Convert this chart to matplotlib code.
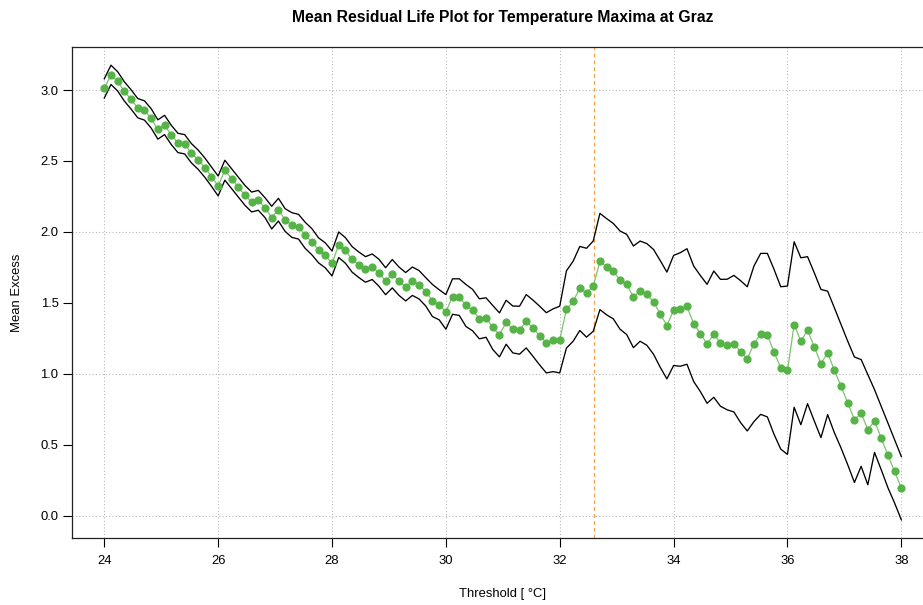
import numpy as np
import matplotlib
matplotlib.use("Agg")
import matplotlib.pyplot as plt

plt.rcParams['font.family'] = ['Liberation Sans', 'DejaVu Sans']

# thresholds: 120 equally spaced thresholds from 24 to 38 °C
threshold = np.linspace(24, 38, 120)

mean_excess = [
    3.011, 3.107, 3.061, 2.990, 2.934, 2.872, 2.856, 2.800, 2.722, 2.754,
    2.684, 2.627, 2.618, 2.555, 2.510, 2.454, 2.390, 2.324, 2.435, 2.376,
    2.317, 2.258, 2.211, 2.223, 2.171, 2.101, 2.157, 2.084, 2.049, 2.037,
    1.976, 1.931, 1.870, 1.835, 1.778, 1.910, 1.870, 1.807, 1.769, 1.736,
    1.755, 1.713, 1.653, 1.706, 1.653, 1.614, 1.653, 1.628, 1.578, 1.517,
    1.487, 1.437, 1.545, 1.541, 1.482, 1.449, 1.388, 1.397, 1.327, 1.275,
    1.364, 1.313, 1.308, 1.371, 1.322, 1.270, 1.219, 1.237, 1.242, 1.454,
    1.512, 1.602, 1.572, 1.618, 1.792, 1.755, 1.724, 1.661, 1.630, 1.543,
    1.583, 1.560, 1.508, 1.423, 1.341, 1.447, 1.454, 1.475, 1.353, 1.284,
    1.212, 1.280, 1.219, 1.207, 1.213, 1.157, 1.106, 1.212, 1.282, 1.273,
    1.155, 1.042, 1.026, 1.348, 1.230, 1.308, 1.191, 1.073, 1.148, 1.026,
    0.913, 0.795, 0.677, 0.725, 0.607, 0.668, 0.548, 0.426, 0.313, 0.195,
]

ci_halfwidth = [
    0.068, 0.068, 0.068, 0.068, 0.068, 0.068, 0.068, 0.068, 0.068, 0.068,
    0.068, 0.068, 0.068, 0.068, 0.068, 0.068, 0.068, 0.070, 0.070, 0.070,
    0.070, 0.070, 0.070, 0.070, 0.070, 0.080, 0.080, 0.080, 0.087, 0.087,
    0.092, 0.092, 0.088, 0.088, 0.088, 0.090, 0.090, 0.090, 0.090, 0.090,
    0.090, 0.095, 0.095, 0.100, 0.100, 0.100, 0.100, 0.100, 0.100, 0.113,
    0.106, 0.122, 0.125, 0.129, 0.148, 0.146, 0.141, 0.139, 0.155, 0.155,
    0.155, 0.165, 0.169, 0.188, 0.198, 0.207, 0.212, 0.221, 0.235, 0.272,
    0.282, 0.296, 0.313, 0.318, 0.339, 0.339, 0.336, 0.346, 0.353, 0.358,
    0.353, 0.358, 0.369, 0.376, 0.376, 0.388, 0.400, 0.407, 0.407, 0.409,
    0.419, 0.445, 0.447, 0.460, 0.481, 0.500, 0.508, 0.548, 0.567, 0.576,
    0.581, 0.572, 0.593, 0.583, 0.588, 0.518, 0.522, 0.522, 0.435, 0.440,
    0.435, 0.435, 0.442, 0.376, 0.388, 0.221, 0.223, 0.228, 0.223, 0.223,
]

chosen_threshold = 32.6
x_ticks = [24, 26, 28, 30, 32, 34, 36, 38]
y_ticks = [0.0, 0.5, 1.0, 1.5, 2.0, 2.5, 3.0]
y_grid = [0.0, 1.0, 2.0, 3.0]

me = np.array(mean_excess)
hw = np.array(ci_halfwidth)
upper = me + hw
lower = me - hw

W, H = 923, 605
fig = plt.figure(figsize=(W / 100, H / 100), dpi=100)
ax_left, ax_right, ax_top, ax_bottom = 72.4, 933.2, 47, 538
ax = fig.add_axes([ax_left / W, 1 - ax_bottom / H,
                   (ax_right - ax_left) / W, (ax_bottom - ax_top) / H])

xr = threshold.max() - threshold.min()
ax.set_xlim(threshold.min() - 0.04 * xr, threshold.max() + 0.04 * xr)
ylo, yhi = lower.min(), upper.max()
yr = yhi - ylo
ax.set_ylim(ylo - 0.04 * yr, yhi + 0.04 * yr)

grid_col = '#b8b8b8'
for gx in x_ticks:
    ax.axvline(gx, color=grid_col, lw=0.8, ls=(0, (1, 2)), zorder=0)
for gy in y_grid:
    ax.axhline(gy, color=grid_col, lw=0.8, ls=(0, (1, 2)), zorder=0)

ax.axvline(chosen_threshold, color='#f4a048', lw=0.9, ls=(0, (3, 2.5)), zorder=1)

ax.plot(threshold, upper, color='black', lw=0.95, zorder=2)
ax.plot(threshold, lower, color='black', lw=0.95, zorder=2)
ax.plot(threshold, me, color='#7cc46c', lw=0.9, zorder=3)
ax.plot(threshold, me, ls='none', marker='o', ms=4.9, mfc='#56b447', mec='#56b447',
        zorder=4)

fs = 9.4
ax.set_xticks(x_ticks)
ax.set_xticklabels([str(t) for t in x_ticks])
ax.set_yticks(y_ticks)
ax.set_yticklabels([f"{t:.1f}" for t in y_ticks])
ax.tick_params(axis='x', direction='out', length=6.2, width=0.8, pad=6, labelsize=fs)
ax.tick_params(axis='y', direction='out', length=6.5, width=0.8, pad=3.5, labelsize=fs)
for s in ax.spines.values():
    s.set_linewidth(0.9)
    s.set_color('#222222')

ax.set_xlabel('Threshold [ °C]', fontsize=fs, va='center')
ax.xaxis.set_label_coords(0.5, (ax_bottom - 594) / (ax_bottom - ax_top))
ax.set_ylabel('Mean Excess', fontsize=fs, va='center')
ax.yaxis.set_label_coords((17 - ax_left) / (ax_right - ax_left), 0.5)

fig.text((ax_left + ax_right) / 2 / W, 1 - 17.5 / H,
         'Mean Residual Life Plot for Temperature Maxima at Graz',
         ha='center', va='center', fontsize=11.3, fontweight='bold')

fig.savefig('out.png', dpi=100)
